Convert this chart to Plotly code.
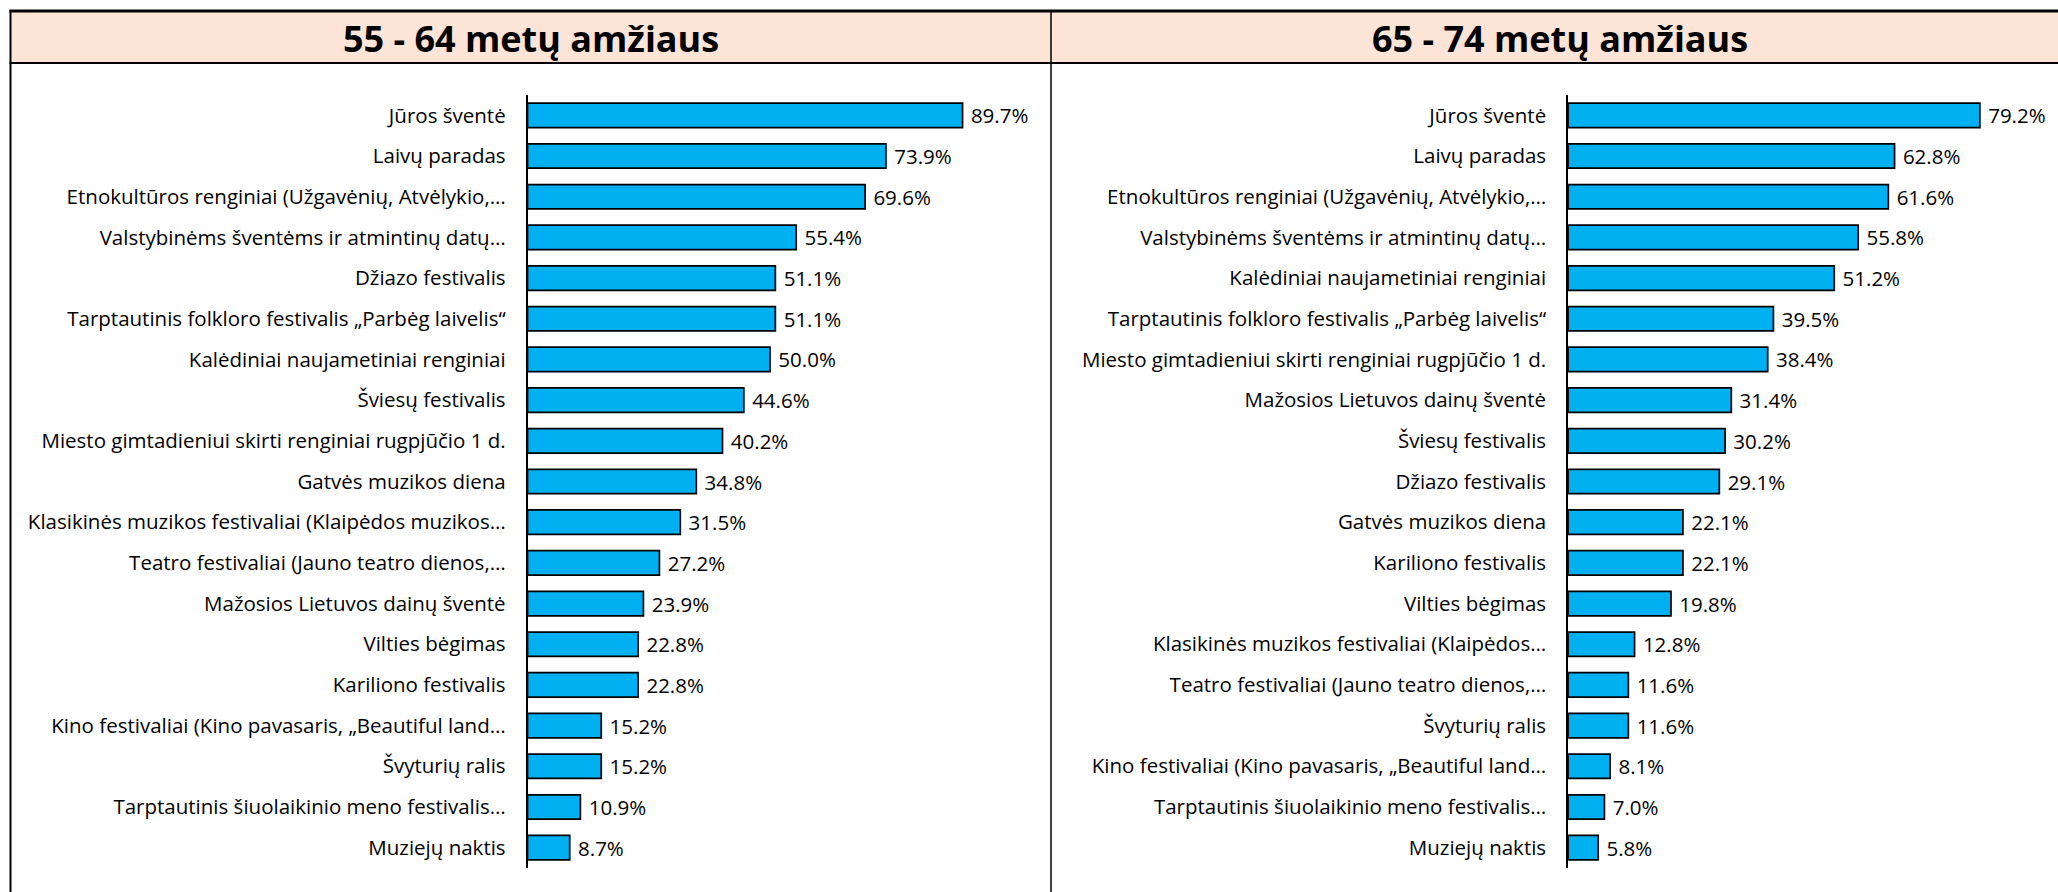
import plotly.graph_objects as go

W, H = 2058, 892

# ---------------- data ----------------
titles = ["55 - 64 metų amžiaus", "65 - 74 metų amžiaus"]

cats_55 = [
    "Jūros šventė",
    "Laivų paradas",
    "Etnokultūros renginiai (Užgavėnių, Atvėlykio,…",
    "Valstybinėms šventėms ir atmintinų datų…",
    "Džiazo festivalis",
    "Tarptautinis folkloro festivalis „Parbėg laivelis“",
    "Kalėdiniai naujametiniai renginiai",
    "Šviesų festivalis",
    "Miesto gimtadieniui skirti renginiai rugpjūčio 1 d.",
    "Gatvės muzikos diena",
    "Klasikinės muzikos festivaliai (Klaipėdos muzikos…",
    "Teatro festivaliai (Jauno teatro dienos,…",
    "Mažosios Lietuvos dainų šventė",
    "Vilties bėgimas",
    "Kariliono festivalis",
    "Kino festivaliai (Kino pavasaris, „Beautiful land…",
    "Švyturių ralis",
    "Tarptautinis šiuolaikinio meno festivalis…",
    "Muziejų naktis",
]
vals_55 = [89.7, 73.9, 69.6, 55.4, 51.1, 51.1, 50.0, 44.6, 40.2, 34.8,
           31.5, 27.2, 23.9, 22.8, 22.8, 15.2, 15.2, 10.9, 8.7]

cats_65 = [
    "Jūros šventė",
    "Laivų paradas",
    "Etnokultūros renginiai (Užgavėnių, Atvėlykio,…",
    "Valstybinėms šventėms ir atmintinų datų…",
    "Kalėdiniai naujametiniai renginiai",
    "Tarptautinis folkloro festivalis „Parbėg laivelis“",
    "Miesto gimtadieniui skirti renginiai rugpjūčio 1 d.",
    "Mažosios Lietuvos dainų šventė",
    "Šviesų festivalis",
    "Džiazo festivalis",
    "Gatvės muzikos diena",
    "Kariliono festivalis",
    "Vilties bėgimas",
    "Klasikinės muzikos festivaliai (Klaipėdos…",
    "Teatro festivaliai (Jauno teatro dienos,…",
    "Švyturių ralis",
    "Kino festivaliai (Kino pavasaris, „Beautiful land…",
    "Tarptautinis šiuolaikinio meno festivalis…",
    "Muziejų naktis",
]
vals_65 = [79.2, 62.8, 61.6, 55.8, 51.2, 39.5, 38.4, 31.4, 30.2, 29.1,
           22.1, 22.1, 19.8, 12.8, 11.6, 11.6, 8.1, 7.0, 5.8]

# ---------------- styling ----------------
FONT = "'Open Sans', Lato, sans-serif"
BAR_COLOR = "#00B0F0"
BAND_COLOR = "#FCE4D6"
LABEL_SIZE = 20.5


def px(x):
    return x / W


def py(y):
    return 1 - y / H


fig = go.Figure()

for i, (cats, vals) in enumerate([(cats_55, vals_55), (cats_65, vals_65)]):
    suffix = "" if i == 0 else str(i + 1)
    fig.add_trace(go.Bar(
        x=vals, y=cats, orientation="h",
        xaxis="x" + suffix, yaxis="y" + suffix,
        marker=dict(color=BAR_COLOR, line=dict(color="black", width=1.75)),
        text=[f"{v:.1f}%" for v in vals],
        texttemplate=" %{text}",
        textposition="outside",
        constraintext="none",
        cliponaxis=False,
        textfont=dict(family=FONT, size=LABEL_SIZE, color="black"),
        hoverinfo="skip",
        showlegend=False,
    ))

y_dom = [py(868), py(95)]
axis_common_y = dict(
    type="category", autorange="reversed",
    showline=True, linecolor="black", linewidth=1.5,
    showgrid=False, zeroline=False, ticks="",
    ticklabelstandoff=16,
    tickfont=dict(family=FONT, size=LABEL_SIZE, color="black"),
    domain=y_dom,
)

fig.update_layout(
    width=W, height=H,
    margin=dict(l=0, r=0, t=0, b=0),
    paper_bgcolor="white", plot_bgcolor="rgba(0,0,0,0)",
    bargap=0.40,
    xaxis=dict(domain=[px(527.5), px(1012.5)], range=[0, 100], visible=False),
    yaxis=dict(anchor="x", **axis_common_y),
    xaxis2=dict(domain=[px(1568), px(2036)], range=[0, 90], visible=False, anchor="y2"),
    yaxis2=dict(anchor="x2", **axis_common_y),
)

shapes = [
    # title bands
    dict(type="rect", xref="paper", yref="paper", x0=px(10.5), x1=px(1051), y0=py(63), y1=py(11),
         fillcolor=BAND_COLOR, line=dict(width=0), layer="below"),
    dict(type="rect", xref="paper", yref="paper", x0=px(1051), x1=1, y0=py(63), y1=py(11),
         fillcolor=BAND_COLOR, line=dict(width=0), layer="below"),
    # top border
    dict(type="line", xref="paper", yref="paper", x0=px(9.5), x1=1, y0=py(11), y1=py(11),
         line=dict(color="black", width=3)),
    # band bottom
    dict(type="line", xref="paper", yref="paper", x0=px(9.5), x1=1, y0=py(63), y1=py(63),
         line=dict(color="black", width=2)),
    # left border
    dict(type="line", xref="paper", yref="paper", x0=px(10.5), x1=px(10.5), y0=0, y1=py(10),
         line=dict(color="black", width=2)),
    # divider
    dict(type="line", xref="paper", yref="paper", x0=px(1051), x1=px(1051), y0=0, y1=py(10),
         line=dict(color="black", width=1.5)),
]
fig.update_layout(shapes=shapes)

title_x = [px(531), px(1560)]
for t, xc in zip(titles, title_x):
    fig.add_annotation(
        x=xc, y=py(38), xref="paper", yref="paper", text=f"<b>{t}</b>",
        showarrow=False, xanchor="center", yanchor="middle",
        font=dict(family=FONT, size=36, color="black"),
    )

fig.write_html(
    "out.html",
    config={"displayModeBar": False},
    post_script="document.body.style.margin='0';document.body.style.overflow='hidden';",
)
